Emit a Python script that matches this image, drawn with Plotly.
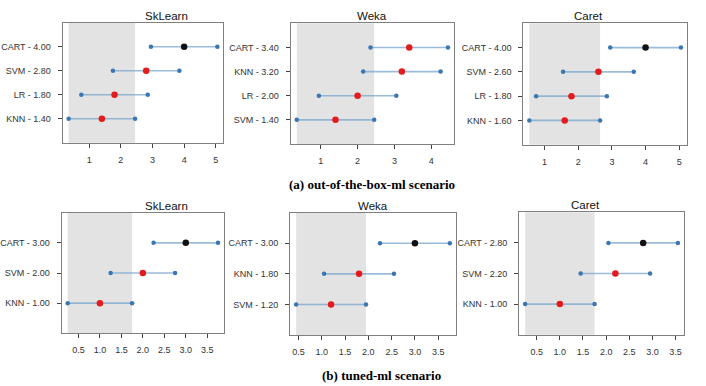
import plotly.graph_objects as go

W, H = 706, 386

# top row: out-of-the-box-ml scenario
sk_a_models = ["KNN", "LR", "SVM", "CART"]
sk_a_ranks = [1.40, 1.80, 2.80, 4.00]
weka_a_models = ["SVM", "LR", "KNN", "CART"]
weka_a_ranks = [1.40, 2.00, 3.20, 3.40]
caret_a_models = ["KNN", "LR", "SVM", "CART"]
caret_a_ranks = [1.60, 1.80, 2.60, 4.00]
cd_a = 2.10

# bottom row: tuned-ml scenario
sk_b_models = ["KNN", "SVM", "CART"]
sk_b_ranks = [1.00, 2.00, 3.00]
weka_b_models = ["SVM", "KNN", "CART"]
weka_b_ranks = [1.20, 1.80, 3.00]
caret_b_models = ["KNN", "SVM", "CART"]
caret_b_ranks = [1.00, 2.20, 2.80]
cd_b = 1.50

top_ticks = [[1, 2, 3, 4, 5], [1, 2, 3, 4], [1, 2, 3, 4, 5]]
bot_ticks = [0.5, 1.0, 1.5, 2.0, 2.5, 3.0, 3.5]

# panel boxes in pixels: x0, x1, y0, y1 (y from top)
boxes = [
    (62.7, 223.3, 22.7, 142.7),
    (290.7, 454.0, 23.3, 144.0),
    (523.3, 687.0, 23.3, 144.7),
    (61.7, 224.0, 212.7, 333.3),
    (290.0, 456.0, 212.7, 335.0),
    (519.0, 684.0, 212.3, 334.7),
]

panels = [
    ("SkLearn", sk_a_models, sk_a_ranks, cd_a, top_ticks[0], "%d"),
    ("Weka", weka_a_models, weka_a_ranks, cd_a, top_ticks[1], "%d"),
    ("Caret", caret_a_models, caret_a_ranks, cd_a, top_ticks[2], "%d"),
    ("SkLearn", sk_b_models, sk_b_ranks, cd_b, bot_ticks, "%.1f"),
    ("Weka", weka_b_models, weka_b_ranks, cd_b, bot_ticks, "%.1f"),
    ("Caret", caret_b_models, caret_b_ranks, cd_b, bot_ticks, "%.1f"),
]

LINE_BLUE = "rgba(120,165,205,0.75)"
DOT_BLUE = "#3a76b0"
RED = "#e41a1c"
BLACK = "#111111"
TICK_FONT = dict(family="Liberation Sans, Arial", size=9, color="#333333")

fig = go.Figure()
layout = {}
shapes = []
annotations = []

for i, (title, models, ranks, cd, xticks, fmt) in enumerate(panels):
    n = i + 1
    sfx = "" if n == 1 else str(n)
    xa, ya = "x" + sfx, "y" + sfx
    half = cd / 2
    labels = [f"{m} - {r:.2f}" for m, r in zip(models, ranks)]
    lows = [r - half for r in ranks]
    highs = [r + half for r in ranks]
    best_hi = min(ranks) + half

    lo, hi = min(lows), max(highs)
    pad = (hi - lo) * 0.04

    # intervals
    for lab, a, b in zip(labels, lows, highs):
        fig.add_trace(go.Scatter(
            x=[a, b], y=[lab, lab], mode="lines+markers",
            line=dict(color=LINE_BLUE, width=1.6),
            marker=dict(color=DOT_BLUE, size=4.5),
            xaxis=xa, yaxis=ya, showlegend=False, hoverinfo="skip"))
    # mean ranks: black if significantly different from the best one
    colors = [BLACK if a > best_hi else RED for a in lows]
    fig.add_trace(go.Scatter(
        x=ranks, y=labels, mode="markers",
        marker=dict(color=colors, size=6.5),
        xaxis=xa, yaxis=ya, showlegend=False))

    x0, x1, y0, y1 = boxes[i]
    layout["xaxis" + sfx] = dict(
        domain=[x0 / W, x1 / W], anchor=ya, range=[lo - pad, hi + pad],
        tickvals=xticks, ticktext=[fmt % t for t in xticks],
        automargin=False, ticklabelstandoff=4,
        showgrid=False, zeroline=False, showline=True, mirror=True,
        linecolor="#808080", linewidth=1, ticks="outside", ticklen=4,
        tickcolor="#444444", tickfont=TICK_FONT)
    layout["yaxis" + sfx] = dict(
        domain=[1 - y1 / H, 1 - y0 / H], anchor=xa, type="category",
        categoryorder="array", categoryarray=labels,
        range=[-1, len(labels)], showgrid=False, zeroline=False,
        automargin=False, ticklabelstandoff=5,
        showline=True, mirror=True, linecolor="#808080", linewidth=1,
        ticks="outside", ticklen=4, tickcolor="#444444", tickfont=TICK_FONT)

    # shaded critical difference region of the best model
    shapes.append(dict(
        type="rect", xref=xa, yref=ya + " domain",
        x0=min(lows), x1=best_hi, y0=0, y1=1,
        fillcolor="#e3e3e3", line=dict(width=0), layer="below"))

    annotations.append(dict(
        text=title, x=(x0 + x1) / 2 / W, y=1 - (y0 - 7) / H,
        xref="paper", yref="paper", showarrow=False, yanchor="middle",
        font=dict(family="Liberation Sans, Arial", size=11.5, color="#111111")))

annotations.append(dict(
    text="<b>(a) out-of-the-box-ml scenario</b>", x=371.7 / W, y=1 - 185 / H,
    xref="paper", yref="paper", showarrow=False, yanchor="middle",
    font=dict(family="Liberation Serif, Times New Roman", size=13, color="#000000")))
annotations.append(dict(
    text="<b>(b) tuned-ml scenario</b>", x=381 / W, y=1 - 375 / H,
    xref="paper", yref="paper", showarrow=False, yanchor="middle",
    font=dict(family="Liberation Serif, Times New Roman", size=13, color="#000000")))

fig.update_layout(
    width=W, height=H, margin=dict(l=0, r=0, t=0, b=0),
    template="none",
    plot_bgcolor="white", paper_bgcolor="white",
    shapes=shapes, annotations=annotations, **layout)

# the page body has a default 8px margin; drop it so the figure fills the window
fig.write_html("out.html", config={"displayModeBar": False},
               post_script="document.body.style.margin='0';")
